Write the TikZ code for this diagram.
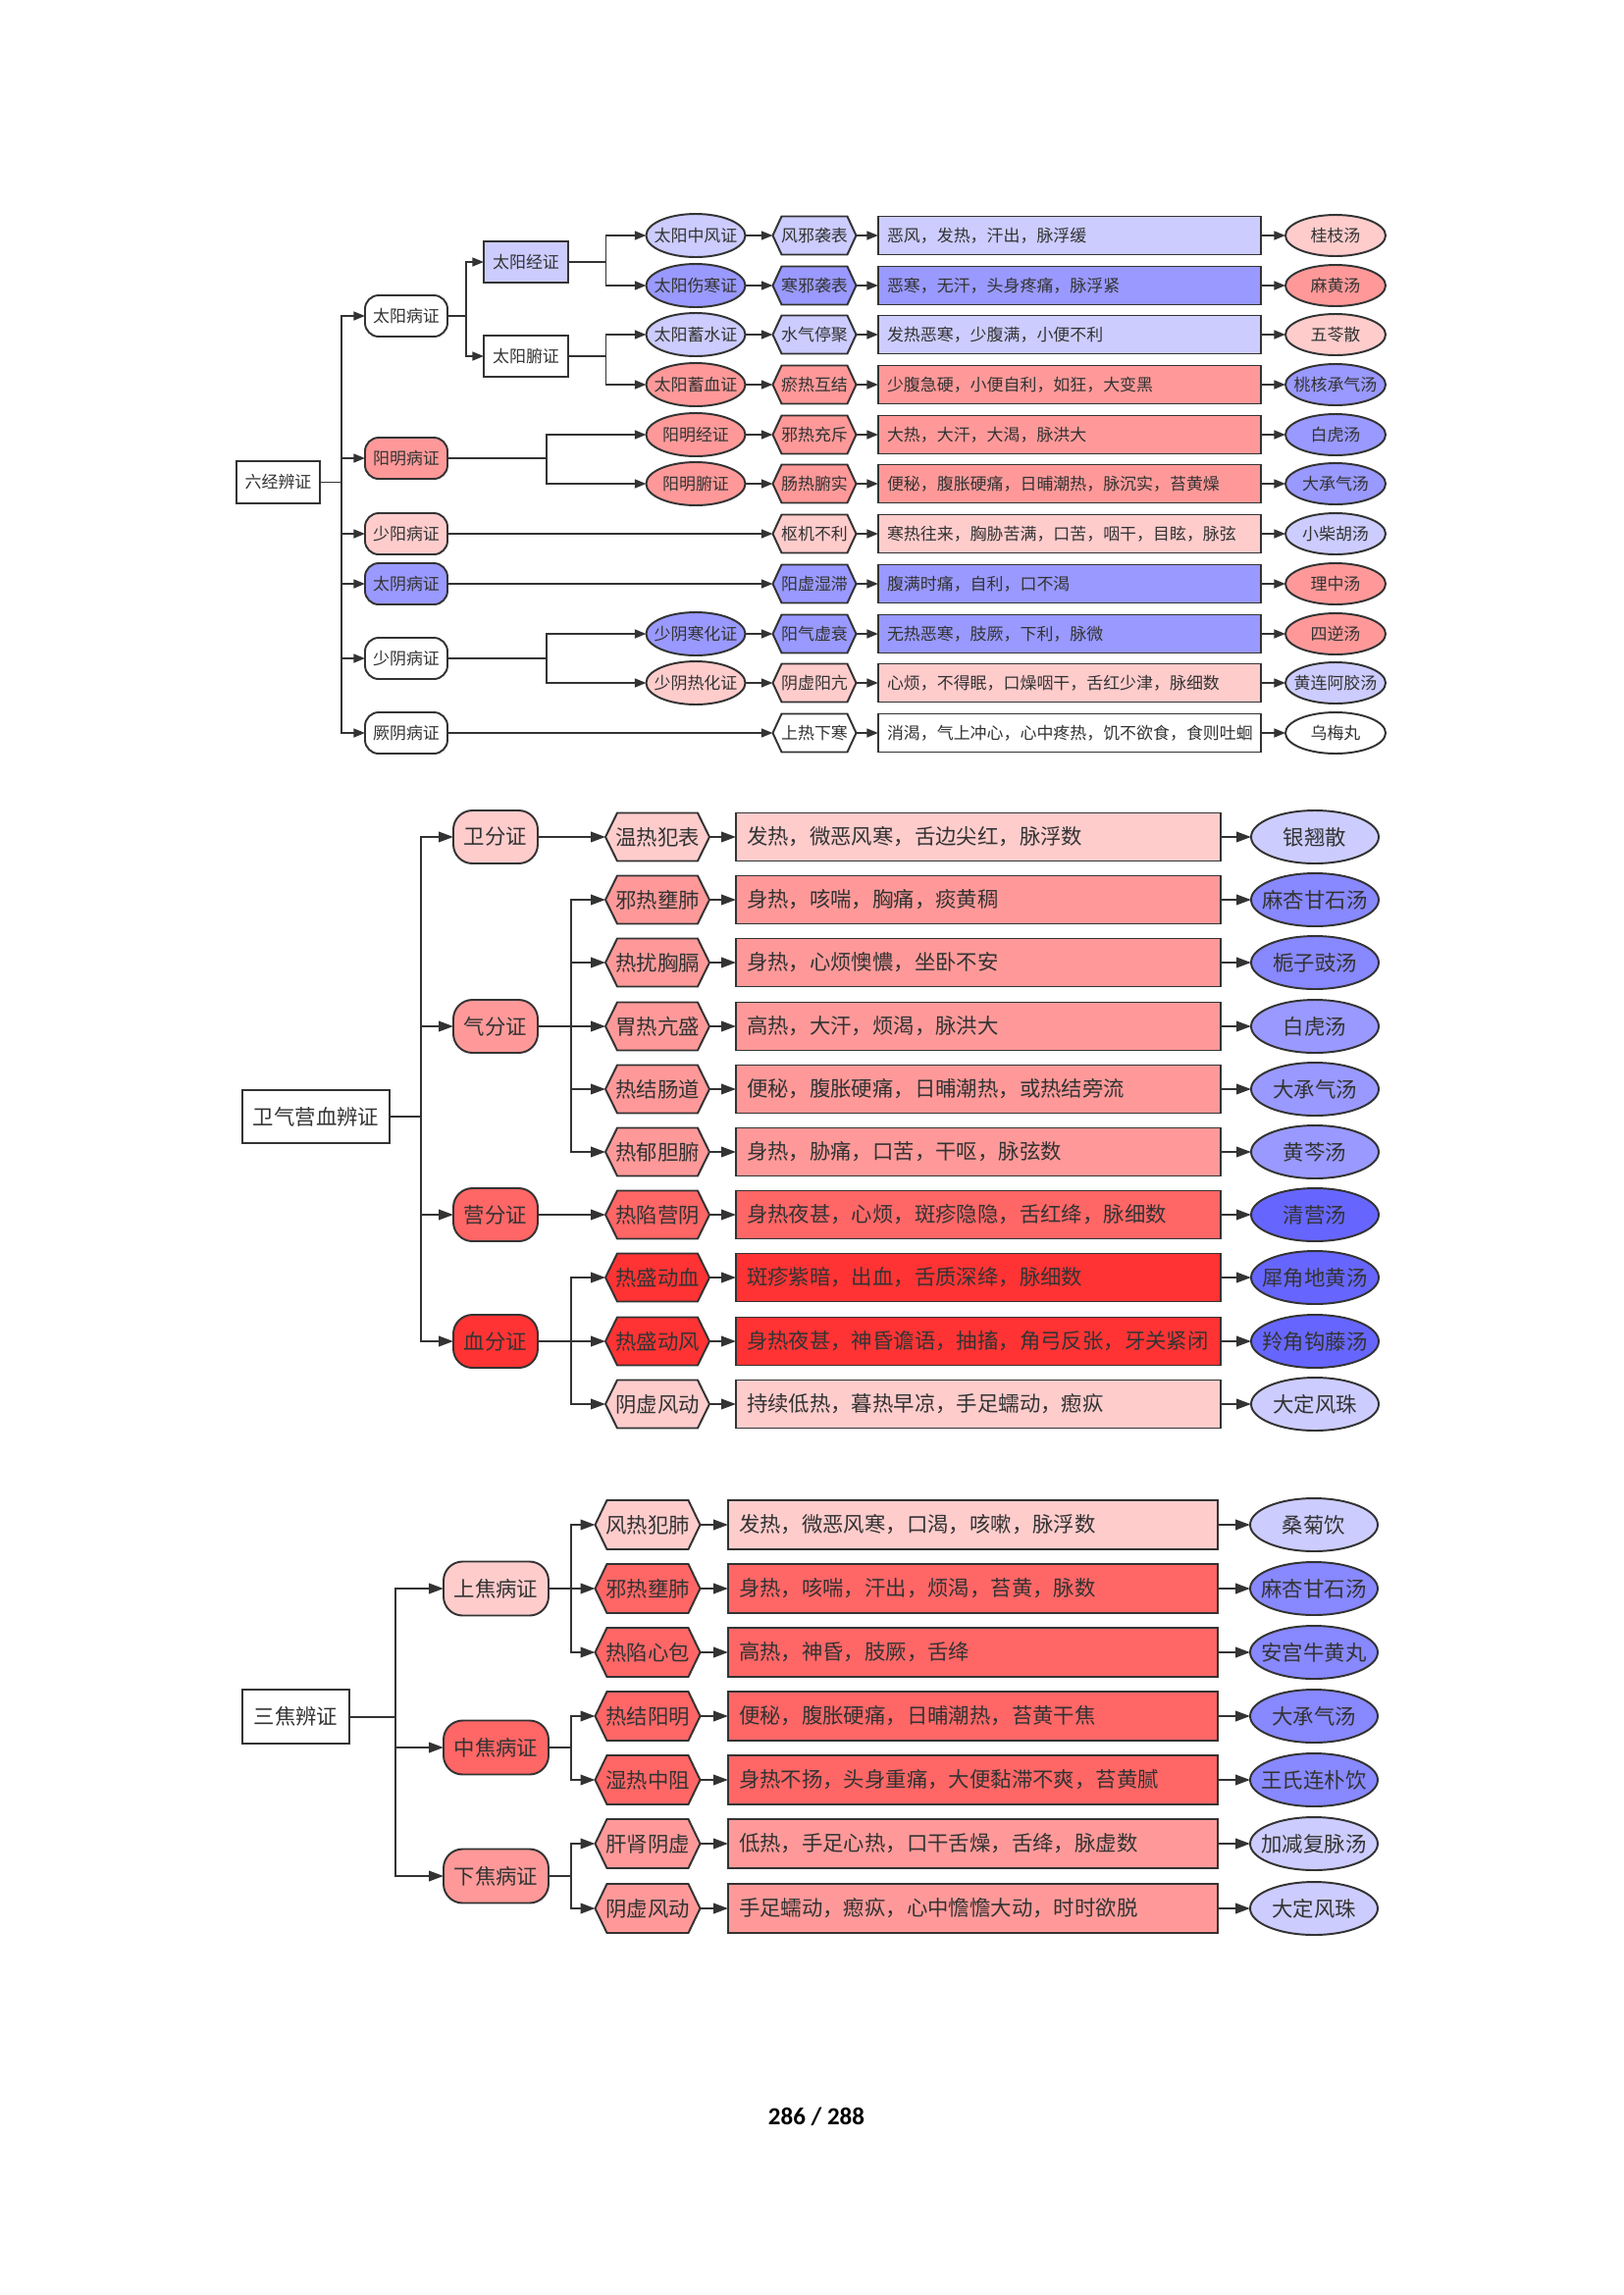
\documentclass[tikz,border=0pt]{standalone}
\usepackage{fontspec}
\newfontfamily\cjk{Noto Sans CJK SC}
\newfontfamily\pgnum{Carlito}
\usetikzlibrary{arrows.meta,shapes.geometric}
\definecolor{lc}{HTML}{333333}
\definecolor{tc}{HTML}{333333}
\definecolor{cLav}{HTML}{CCCCFF}
\definecolor{cBlue}{HTML}{9999FF}
\definecolor{cBlueB}{HTML}{8888FF}
\definecolor{cBlueC}{HTML}{6666FF}
\definecolor{cPink}{HTML}{FFCCCC}
\definecolor{cRed}{HTML}{FF9999}
\definecolor{cRedB}{HTML}{FF6666}
\definecolor{cRedC}{HTML}{FF3333}
\newcommand\pu{0.36pt}
\newlength\rtwlen
\newcommand\zb[1]{\makebox[0pt][c]{#1}}
\tikzset{
  every node/.style={text=tc, inner sep=0pt, outer sep=0pt},
  fA/.style={font=\cjk\fontsize{6.1pt}{7.3pt}\selectfont},
  fB/.style={font=\cjk\fontsize{7.7pt}{9.2pt}\selectfont},
  bd/.style={draw=lc, line width=0.7pt},
  sq/.style={bd, rectangle},
  pillA/.style={bd, rectangle, rounded corners=5pt},
  pillB/.style={bd, rectangle, rounded corners=7pt},
  el/.style={bd, ellipse},
  connA/.style={draw=lc, line width=0.7pt, -{Triangle[length=4.2pt,width=3.2pt]}},
  connB/.style={draw=lc, line width=0.72pt, -{Triangle[length=5.4pt,width=3.8pt]}},
  curf/.style={fA},
  conn/.style={connA},
}
\newcommand\hexnode[8]{%
  \filldraw[fill=#7, draw=lc, line width=0.7pt] ({#2-#4/2},#3) -- ({#2-#4/2+#6},{#3-#5/2}) -- ({#2+#4/2-#6},{#3-#5/2}) -- ({#2+#4/2},#3) -- ({#2+#4/2-#6},{#3+#5/2}) -- ({#2-#4/2+#6},{#3+#5/2}) -- cycle;
  \node[curf, minimum width=#4*\pu, minimum height=#5*\pu] (#1) at (#2,#3) {#8};}
\newcommand\prow[8]{%
  \hexnode{#1h#2}{\hx}{#3}{\hw}{\hh}{\hs}{#4}{#5}
  \node[sq, curf, fill=#4, anchor=west, minimum height=\rh*\pu, text width=\rtwlen, inner xsep=\rpad*\pu, align=left] (#1r#2) at (\rx,#3) {#6};
  \node[el, curf, fill=#7, minimum width=\fw*\pu, minimum height=\fh*\pu] (#1f#2) at (\fx,#3) {\zb{#8}};
  \draw[conn] (#1h#2.east) -- (#1r#2.west);
  \draw[conn] (#1r#2.east) -- (#1f#2.west);
}
\begin{document}
\begin{tikzpicture}[x=0.36pt,y=-0.36pt]
\fill[white] (0,0) rectangle (1654,2339);
\useasboundingbox (0,0) rectangle (1654,2339);

% ================= Diagram 1 =================
\tikzset{curf/.style={fA}, conn/.style={connA}}
\def\hx{830}\def\hw{85}\def\hh{39}\def\hs{9}
\def\rx{895}\def\rh{39}\def\rpad{9}\setlength\rtwlen{133.9pt}
\def\fx{1361}\def\fw{102}\def\fh{42}
\coordinate (aT) at (348,0);
\coordinate (aB1) at (475,0);
\coordinate (aB2) at (617.5,0);
\coordinate (aB3) at (557,0);

\node[sq, fA, minimum width=85*\pu, minimum height=43*\pu] (aRoot) at (283.5,491.5) {六经辨证};
\node[pillA, fA, fill=white, minimum width=84*\pu, minimum height=42*\pu] (aL1) at (414,322) {太阳病证};
\node[pillA, fA, fill=cRed,  minimum width=84*\pu, minimum height=42*\pu] (aL2) at (414,467) {阳明病证};
\node[pillA, fA, fill=cPink, minimum width=84*\pu, minimum height=42*\pu] (aL3) at (414,544) {少阳病证};
\node[pillA, fA, fill=cBlue, minimum width=84*\pu, minimum height=42*\pu] (aL4) at (414,595) {太阴病证};
\node[pillA, fA, fill=white, minimum width=84*\pu, minimum height=42*\pu] (aL5) at (414,671) {少阴病证};
\node[pillA, fA, fill=white, minimum width=84*\pu, minimum height=42*\pu] (aL6) at (414,747) {厥阴病证};

\node[sq, fA, fill=cLav,  minimum width=86*\pu, minimum height=42*\pu] (aM1) at (536,267) {太阳经证};
\node[sq, fA, fill=white, minimum width=86*\pu, minimum height=42*\pu] (aM2) at (536,363) {太阳腑证};

\node[el, fA, fill=cLav,  minimum width=101*\pu, minimum height=44*\pu] (ae0) at (709,240) {\zb{太阳中风证}};
\node[el, fA, fill=cBlue, minimum width=101*\pu, minimum height=44*\pu] (ae1) at (709,291) {\zb{太阳伤寒证}};
\node[el, fA, fill=cLav,  minimum width=101*\pu, minimum height=44*\pu] (ae2) at (709,341) {\zb{太阳蓄水证}};
\node[el, fA, fill=cRed,  minimum width=101*\pu, minimum height=44*\pu] (ae3) at (709,392) {\zb{太阳蓄血证}};
\node[el, fA, fill=cRed,  minimum width=101*\pu, minimum height=44*\pu] (ae4) at (709,443) {\zb{阳明经证}};
\node[el, fA, fill=cRed,  minimum width=101*\pu, minimum height=44*\pu] (ae5) at (709,493) {\zb{阳明腑证}};
\node[el, fA, fill=cBlue, minimum width=101*\pu, minimum height=44*\pu] (ae8) at (709,646) {\zb{少阴寒化证}};
\node[el, fA, fill=cPink, minimum width=101*\pu, minimum height=44*\pu] (ae9) at (709,696) {\zb{少阴热化证}};

\prow{a}{0}{240}{cLav}{风邪袭表}{恶风，发热，汗出，脉浮缓}{cPink}{桂枝汤}
\prow{a}{1}{291}{cBlue}{寒邪袭表}{恶寒，无汗，头身疼痛，脉浮紧}{cRed}{麻黄汤}
\prow{a}{2}{341}{cLav}{水气停聚}{发热恶寒，少腹满，小便不利}{cPink}{五苓散}
\prow{a}{3}{392}{cRed}{瘀热互结}{少腹急硬，小便自利，如狂，大变黑}{cBlue}{桃核承气汤}
\prow{a}{4}{443}{cRed}{邪热充斥}{大热，大汗，大渴，脉洪大}{cBlue}{白虎汤}
\prow{a}{5}{493}{cRed}{肠热腑实}{便秘，腹胀硬痛，日晡潮热，脉沉实，苔黄燥}{cBlue}{大承气汤}
\prow{a}{6}{544}{cPink}{枢机不利}{寒热往来，胸胁苦满，口苦，咽干，目眩，脉弦}{cLav}{小柴胡汤}
\prow{a}{7}{595}{cBlue}{阳虚湿滞}{腹满时痛，自利，口不渴}{cRed}{理中汤}
\prow{a}{8}{646}{cBlue}{阳气虚衰}{无热恶寒，肢厥，下利，脉微}{cRed}{四逆汤}
\prow{a}{9}{696}{cPink}{阴虚阳亢}{心烦，不得眠，口燥咽干，舌红少津，脉细数}{cLav}{黄连阿胶汤}
\prow{a}{10}{747}{white}{上热下寒}{消渴，气上冲心，心中疼热，饥不欲食，食则吐蛔}{white}{乌梅丸}

\foreach \n in {1,...,6} \draw[conn] (aRoot.east) -- (aRoot.east -| aT) |- (aL\n.west);
\draw[conn] (aL1.east) -- (aL1.east -| aB1) |- (aM1.west);
\draw[conn] (aL1.east) -- (aL1.east -| aB1) |- (aM2.west);
\draw[conn] (aM1.east) -- (aM1.east -| aB2) |- (ae0.west);
\draw[conn] (aM1.east) -- (aM1.east -| aB2) |- (ae1.west);
\draw[conn] (aM2.east) -- (aM2.east -| aB2) |- (ae2.west);
\draw[conn] (aM2.east) -- (aM2.east -| aB2) |- (ae3.west);
\draw[conn] (aL2.east) -- (aL2.east -| aB3) |- (ae4.west);
\draw[conn] (aL2.east) -- (aL2.east -| aB3) |- (ae5.west);
\draw[conn] (aL5.east) -- (aL5.east -| aB3) |- (ae8.west);
\draw[conn] (aL5.east) -- (aL5.east -| aB3) |- (ae9.west);
\draw[conn] (aL3.east) -- (ah6.west);
\draw[conn] (aL4.east) -- (ah7.west);
\draw[conn] (aL6.east) -- (ah10.west);
\foreach \n in {0,1,2,3,4,5,8,9} \draw[conn] (ae\n.east) -- (ah\n.west);

% ================= Diagram 2 =================
\tikzset{curf/.style={fB}, conn/.style={connB}}
\def\hx{670}\def\hw{106}\def\hh{49}\def\hs{12}
\def\rx{750}\def\rh{49}\def\rpad{11}\setlength\rtwlen{169.92pt}
\def\fx{1340}\def\fw{130}\def\fh{54}
\coordinate (bT) at (429,0);
\coordinate (bB) at (582,0);

\node[sq, fB, minimum width=150*\pu, minimum height=54*\pu] (bRoot) at (322,1138) {卫气营血辨证};
\node[pillB, fB, fill=cPink, minimum width=86*\pu, minimum height=54*\pu] (bL1) at (505,853) {卫分证};
\node[pillB, fB, fill=cRed,  minimum width=86*\pu, minimum height=54*\pu] (bL2) at (505,1046) {气分证};
\node[pillB, fB, fill=cRedB, minimum width=86*\pu, minimum height=54*\pu] (bL3) at (505,1238) {营分证};
\node[pillB, fB, fill=cRedC, minimum width=86*\pu, minimum height=54*\pu] (bL4) at (505,1367) {血分证};

\prow{b}{0}{853}{cPink}{温热犯表}{发热，微恶风寒，舌边尖红，脉浮数}{cLav}{银翘散}
\prow{b}{1}{917}{cRed}{邪热壅肺}{身热，咳喘，胸痛，痰黄稠}{cBlueB}{麻杏甘石汤}
\prow{b}{2}{981}{cRed}{热扰胸膈}{身热，心烦懊憹，坐卧不安}{cBlueB}{栀子豉汤}
\prow{b}{3}{1046}{cRed}{胃热亢盛}{高热，大汗，烦渴，脉洪大}{cBlue}{白虎汤}
\prow{b}{4}{1110}{cRed}{热结肠道}{便秘，腹胀硬痛，日晡潮热，或热结旁流}{cBlue}{大承气汤}
\prow{b}{5}{1174}{cRed}{热郁胆腑}{身热，胁痛，口苦，干呕，脉弦数}{cBlue}{黄芩汤}
\prow{b}{6}{1238}{cRedB}{热陷营阴}{身热夜甚，心烦，斑疹隐隐，舌红绛，脉细数}{cBlueC}{清营汤}
\prow{b}{7}{1302}{cRedC}{热盛动血}{斑疹紫暗，出血，舌质深绛，脉细数}{cBlueC}{犀角地黄汤}
\prow{b}{8}{1367}{cRedC}{热盛动风}{身热夜甚，神昏谵语，抽搐，角弓反张，牙关紧闭}{cBlueC}{羚角钩藤汤}
\prow{b}{9}{1431}{cPink}{阴虚风动}{持续低热，暮热早凉，手足蠕动，瘛疭}{cLav}{大定风珠}

\foreach \n in {1,...,4} \draw[conn] (bRoot.east) -- (bRoot.east -| bT) |- (bL\n.west);
\draw[conn] (bL1.east) -- (bh0.west);
\foreach \n in {1,...,5} \draw[conn] (bL2.east) -- (bL2.east -| bB) |- (bh\n.west);
\draw[conn] (bL3.east) -- (bh6.west);
\foreach \n in {7,8,9} \draw[conn] (bL4.east) -- (bL4.east -| bB) |- (bh\n.west);

% ================= Diagram 3 =================
\def\hx{660}\def\hw{107}\def\hh{50}\def\hs{12}
\def\rx{742}\def\rh{50}\def\rpad{11}\setlength\rtwlen{171.7pt}
\def\fx{1339}\def\fw{130}\def\fh{54}
\coordinate (cT) at (403,0);
\coordinate (cB) at (582,0);

\node[sq, fB, minimum width=109*\pu, minimum height=55*\pu] (cRoot) at (301.5,1749.5) {三焦辨证};
\node[pillB, fB, fill=cPink, minimum width=107*\pu, minimum height=55*\pu] (cL1) at (505.5,1619) {上焦病证};
\node[pillB, fB, fill=cRedB, minimum width=107*\pu, minimum height=55*\pu] (cL2) at (505.5,1781) {中焦病证};
\node[pillB, fB, fill=cRed,  minimum width=107*\pu, minimum height=55*\pu] (cL3) at (505.5,1912) {下焦病证};

\prow{c}{0}{1554}{cPink}{风热犯肺}{发热，微恶风寒，口渴，咳嗽，脉浮数}{cLav}{桑菊饮}
\prow{c}{1}{1619}{cRedB}{邪热壅肺}{身热，咳喘，汗出，烦渴，苔黄，脉数}{cBlueB}{麻杏甘石汤}
\prow{c}{2}{1684}{cRedB}{热陷心包}{高热，神昏，肢厥，舌绛}{cBlueB}{安宫牛黄丸}
\prow{c}{3}{1749}{cRedB}{热结阳明}{便秘，腹胀硬痛，日晡潮热，苔黄干焦}{cBlueB}{大承气汤}
\prow{c}{4}{1814}{cRedB}{湿热中阻}{身热不扬，头身重痛，大便黏滞不爽，苔黄腻}{cBlueB}{王氏连朴饮}
\prow{c}{5}{1879}{cRed}{肝肾阴虚}{低热，手足心热，口干舌燥，舌绛，脉虚数}{cLav}{加减复脉汤}
\prow{c}{6}{1945}{cRed}{阴虚风动}{手足蠕动，瘛疭，心中憺憺大动，时时欲脱}{cLav}{大定风珠}

\foreach \n in {1,2,3} \draw[conn] (cRoot.east) -- (cRoot.east -| cT) |- (cL\n.west);
\foreach \n in {0,1,2} \draw[conn] (cL1.east) -- (cL1.east -| cB) |- (ch\n.west);
\foreach \n in {3,4} \draw[conn] (cL2.east) -- (cL2.east -| cB) |- (ch\n.west);
\foreach \n in {5,6} \draw[conn] (cL3.east) -- (cL3.east -| cB) |- (ch\n.west);

% page number
\node[font=\pgnum\bfseries\fontsize{9pt}{11pt}\selectfont, text=black] (pg) at (832,2157) {286 / 288};
\end{tikzpicture}
\end{document}
